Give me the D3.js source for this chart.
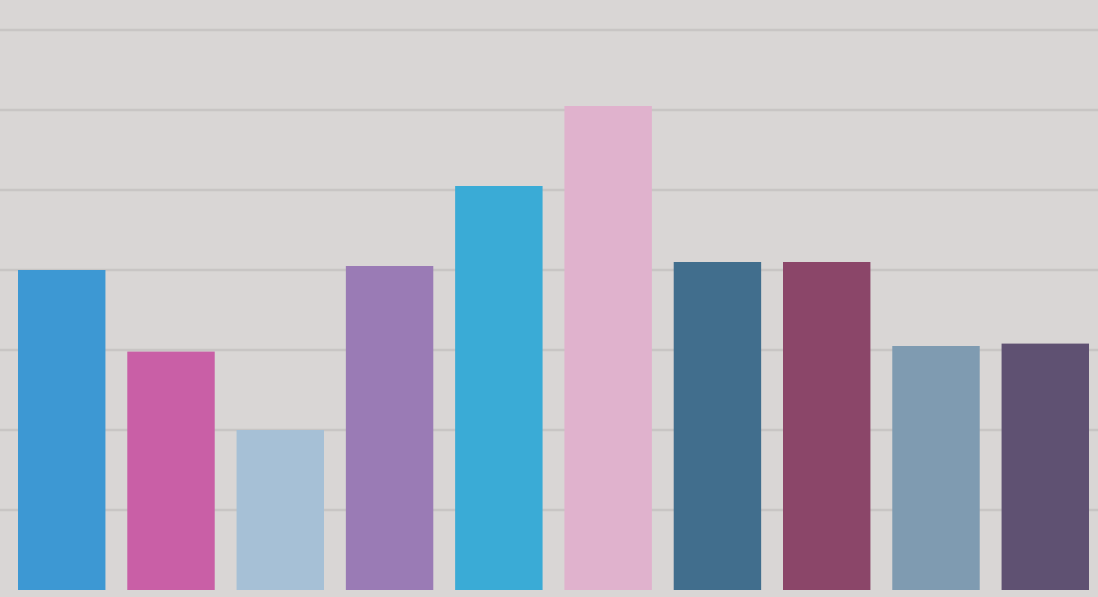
<!DOCTYPE html>
<html lang="en">
<head>
<meta charset="UTF-8">
<script src="https://d3js.org/d3.v7.min.js"></script>
<style>
  html, body { margin: 0; padding: 0; background: #d9d6d5; overflow: hidden; }
</style>
</head>
<body>
<div id="chart_area"></div>
<script>
  // bar values (read in gridline units)
  var categories = ["A", "B", "C", "D", "E", "F", "G", "H", "I", "J"];
  var values = [4.0, 2.98, 2.0, 4.05, 5.05, 6.05, 4.1, 4.1, 3.05, 3.08];
  var barColors = ["#3d98d3", "#c95fa6", "#a6c0d6", "#9a7bb5", "#3aabd6",
                   "#e0b2cd", "#416e8d", "#8b4669", "#7f9bb1", "#5f5172"];
  var gridTicks = [1, 2, 3, 4, 5, 6, 7];

  var width = 1098, height = 597;
  var margin = { top: 0, right: 9, bottom: 5, left: 18 };

  var svg = d3.select("#chart_area").append("svg")
    .attr("width", width)
    .attr("height", height);

  var x = d3.scaleBand()
    .domain(categories)
    .range([margin.left, width - margin.right])
    .paddingInner(0.2)
    .paddingOuter(0);

  var y = d3.scaleLinear()
    .domain([0, 7])
    .range([height - margin.bottom - 2, height - margin.bottom - 2 - 7 * 80]);

  // gridlines
  svg.append("g")
    .selectAll("line")
    .data(gridTicks)
    .enter()
    .append("line")
      .attr("x1", 0)
      .attr("x2", width)
      .attr("y1", function(d) { return y(d); })
      .attr("y2", function(d) { return y(d); })
      .attr("stroke", "#c8c5c4")
      .attr("stroke-width", 2.5);

  svg.append("g")
    .selectAll("rect")
    .data(values)
    .enter()
    .append("rect")
      .attr("x", function(d, i) { return x(categories[i]); })
      .attr("width", x.bandwidth())
      .attr("y", function(d) { return y(d); })
      .attr("height", function(d) { return y(0) - y(d); })
      .attr("fill", function(d, i) { return barColors[i]; });
</script>
</body>
</html>
